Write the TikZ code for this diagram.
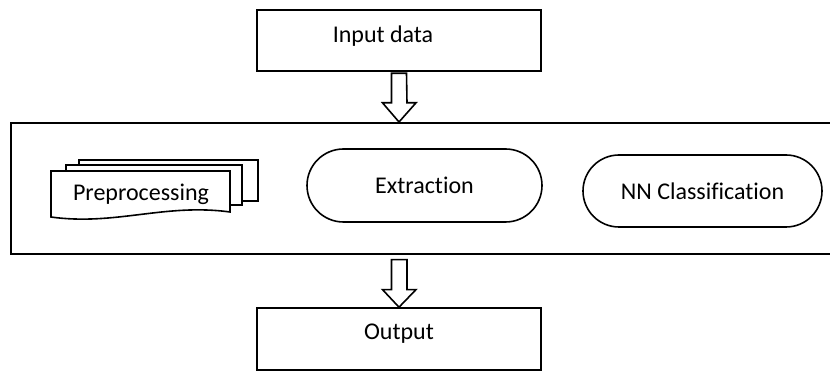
\documentclass[tikz,border=0pt]{standalone}
\usepackage{fontspec}
\setmainfont[Ligatures=NoCommon]{Carlito}
\usetikzlibrary{shapes.misc,calc}
\begin{document}
\begin{tikzpicture}[x=1pt,y=-1pt,
  every node/.style={font=\fontsize{24}{29}\selectfont},
  boxline/.style={draw=black,line width=1.6pt},
  plainbox/.style={boxline,rectangle,fill=white,inner sep=0pt},
  pill/.style={boxline,rounded rectangle,fill=white,inner sep=0pt},
  blockarrow/.style={boxline,fill=white,line join=miter}]
\useasboundingbox (0,0) rectangle (830,371);
% frame
\node[plainbox,minimum width=826pt,minimum height=131pt,anchor=north west] (frame) at (10,122) {};
% input / output
\node[plainbox,minimum width=284pt,minimum height=61pt] (input) at (399,40.5) {};
\node at ($(input.center)+(-16,-4)$) {Input data};
\node[plainbox,minimum width=284pt,minimum height=62pt] (output) at (399,339) {};
\node at ($(output.center)+(0,-5)$) {Output};
% block arrows
\draw[blockarrow] ($(input.south)+(-7.5,1.5)$) -- ++(0,29.5) -- ++(-9,0)
  -- ($(frame.north west)!(input.south)!(frame.north east)$) coordinate (tipA)
  -- ($(input.south)+(17,31)$) -- ++(-9,0) -- ($(input.south)+(7.5,1.5)$) -- cycle;
\draw[blockarrow] ($(frame.south west)!(output.north)!(frame.south east)+(-7.5,5)$) coordinate (baseB)
  -- ++(0,30) -- ++(-9,0) -- (output.north) -- ($(baseB)+(24.5,30)$) -- ++(-9,0) -- ++(0,-30) -- cycle;
% multi-document
\filldraw[boxline,fill=white] (79,201) -- (79,160) -- (258,160) -- (258,201) -- cycle;
\filldraw[boxline,fill=white] (66,205) -- (66,165) -- (242,165) -- (242,205) -- cycle;
\filldraw[boxline,fill=white] (51,217) -- (51,171) -- (230,171) -- (230,212)
  .. controls (165,203) and (115,226) .. cycle;
\node (pre) at (141,194) {Preprocessing};
% pills
\node[pill,minimum width=235pt,minimum height=73pt] (extraction) at (424.5,185.5) {Extraction};
\node[pill,minimum width=239pt,minimum height=72pt] (nn) at (702.5,191) {NN Classification};
\end{tikzpicture}
\end{document}
